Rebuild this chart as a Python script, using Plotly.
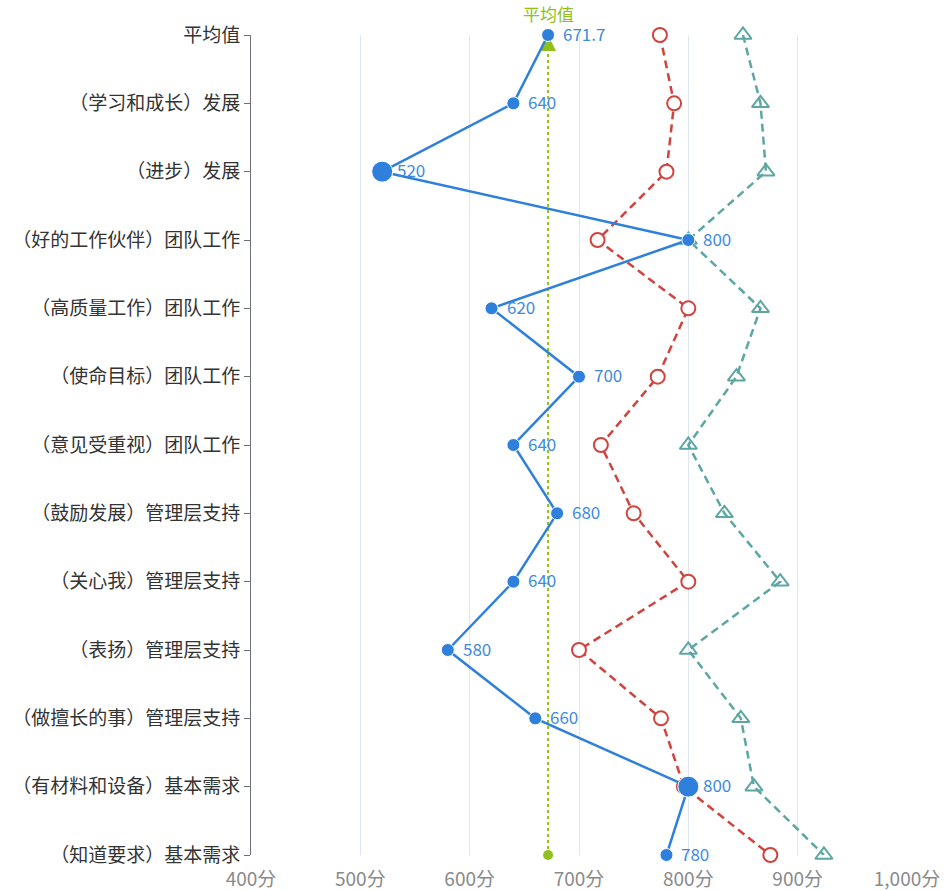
import plotly.graph_objects as go

categories = [
    "平均值",
    "（学习和成长）发展",
    "（进步）发展",
    "（好的工作伙伴）团队工作",
    "（高质量工作）团队工作",
    "（使命目标）团队工作",
    "（意见受重视）团队工作",
    "（鼓励发展）管理层支持",
    "（关心我）管理层支持",
    "（表扬）管理层支持",
    "（做擅长的事）管理层支持",
    "（有材料和设备）基本需求",
    "（知道要求）基本需求",
]
blue_values = [671.7, 640, 520, 800, 620, 700, 640, 680, 640, 580, 660, 800, 780]
blue_sizes = [13, 13, 21, 13, 13, 13, 13, 13, 13, 13, 13, 21, 13]
red_values = [774, 787, 780, 717, 800, 772, 720, 750, 800, 700, 775, 796, 875]
teal_values = [850, 866, 871, 800, 866, 844, 800, 833, 884, 800, 848, 860, 924]
average_value = 671.7
x_ticks = [400, 500, 600, 700, 800, 900, 1000]
x_tick_text = [f"{v:,}分" for v in x_ticks]

BLUE = "#2f80dc"
BLUE_TXT = "#3f8ae0"
RED = "#d0433f"
TEAL = "#5ea6a3"
GREEN = "#8fc01c"

ypos = list(range(len(categories)))

fig = go.Figure()

# average line
fig.add_trace(go.Scatter(
    x=[average_value, average_value], y=[ypos[-1], ypos[0]],
    mode="lines", line=dict(color=GREEN, width=2, dash="dot"),
    hoverinfo="skip", showlegend=False, cliponaxis=False,
))
fig.add_trace(go.Scatter(
    x=[average_value], y=[ypos[-1]], mode="markers",
    marker=dict(color=GREEN, size=10, symbol="circle", opacity=1),
    hoverinfo="skip", showlegend=False, cliponaxis=False,
))
fig.add_trace(go.Scatter(
    x=[average_value], y=[ypos[0]], mode="markers",
    marker=dict(color=GREEN, size=16, symbol="arrow-up", opacity=1),
    hoverinfo="skip", showlegend=False, cliponaxis=False,
))

# teal series
fig.add_trace(go.Scatter(
    x=teal_values, y=ypos, mode="lines+markers",
    line=dict(color=TEAL, width=2.5, dash="8px,5px"),
    marker=dict(symbol="triangle-up-open", size=15, color=TEAL, opacity=1,
                line=dict(width=2, color=TEAL)),
    showlegend=False, cliponaxis=False,
))
# red series
fig.add_trace(go.Scatter(
    x=red_values, y=ypos, mode="lines+markers",
    line=dict(color=RED, width=2.5, dash="8px,5px"),
    marker=dict(symbol="circle", size=14, color="white", opacity=1,
                line=dict(width=2, color=RED)),
    showlegend=False, cliponaxis=False,
))
# blue series
fig.add_trace(go.Scatter(
    x=blue_values, y=ypos, mode="lines+markers",
    line=dict(color=BLUE, width=2.5),
    marker=dict(symbol="circle", size=blue_sizes, color=BLUE, opacity=1),
    showlegend=False, cliponaxis=False,
))

for xv, yv in zip(blue_values, ypos):
    fig.add_annotation(
        x=xv, y=yv, text=f"{xv:g}", showarrow=False,
        xanchor="left", yanchor="middle", xshift=13, yshift=2,
        font=dict(color=BLUE_TXT, size=17),
    )

fig.add_annotation(
    x=average_value, y=ypos[0], text="平均值", showarrow=False,
    yanchor="bottom", yshift=7, font=dict(color=GREEN, size=17),
)

fig.update_layout(
    width=948, height=890,
    margin=dict(l=251, r=41, t=35, b=35, autoexpand=False),
    plot_bgcolor="white", paper_bgcolor="white",
    font=dict(family="Noto Sans CJK SC, Noto Sans, sans-serif"),
    xaxis=dict(
        range=[x_ticks[0], x_ticks[-1]], tickvals=x_ticks, ticktext=x_tick_text,
        showgrid=True, gridcolor="#e0e6f1", gridwidth=1,
        zeroline=False, showline=False, automargin=False,
        ticks="outside", ticklen=7, tickcolor="rgba(0,0,0,0)",
        tickfont=dict(color="#8a8a8a", size=19),
    ),
    yaxis=dict(
        range=[ypos[-1], ypos[0]], tickvals=ypos, ticktext=categories,
        showgrid=False, zeroline=False, showline=True, linecolor="#6e7079",
        linewidth=1, ticks="outside", ticklen=6, tickcolor="#6e7079",
        automargin=False,
        tickfont=dict(color="#333333", size=19),
    ),
)

fig.write_html("out.html")
